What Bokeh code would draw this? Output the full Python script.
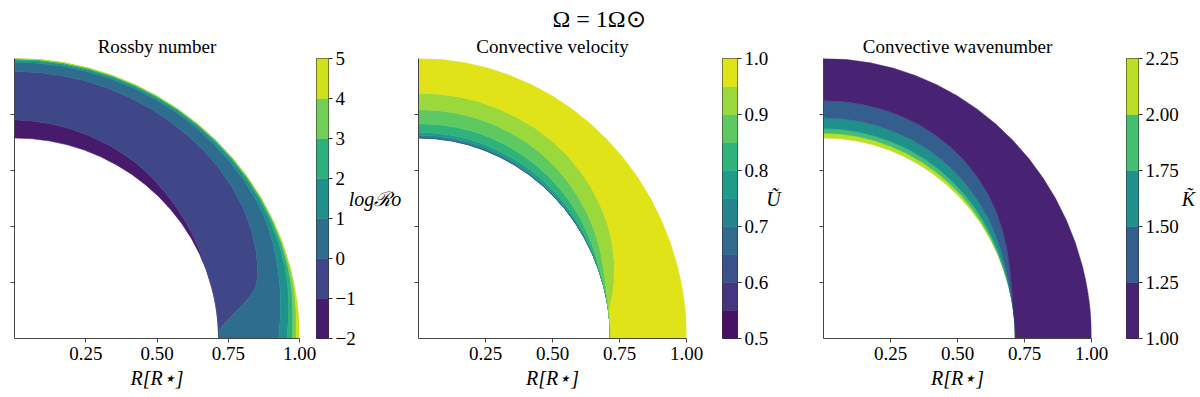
import numpy as np
from bokeh.plotting import figure
from bokeh.layouts import row
from bokeh.models import (FixedTicker, Range1d, NumeralTickFormatter, Title,
                          CustomJSTickFormatter)
from bokeh.palettes import Viridis256
from bokeh.embed import file_html
from bokeh.resources import INLINE

# ---------------- data ----------------
# latitude (degrees from equator) at which contour radii were read
LAT = [0, 1, 2, 3, 4, 6, 8, 10, 12, 15, 20, 25, 30, 35, 40, 45, 50, 55, 60, 65, 70, 75, 80, 85, 90]
R_IN = 0.716
R_OUT = 1.0

# Panel 1: log Rossby number, levels -2..5
RO_LEVELS = [-2, -1, 0, 1, 2, 3, 4, 5]
RO_C_M1 = [.716, .716, .716, .716, .716, .716, .716, .716, .716, .716, .717, .721, .726,
           .731, .737, .743, .751, .757, .762, .766, .770, .774, .777, .779, .781]
RO_C_0 = [.716, .716, .716, .725, .736, .766, .798, .835, .864, .884, .903, .917, .928,
          .935, .940, .944, .946, .948, .950, .951, .952, .953, .954, .954, .954]
RO_C_1 = [.927, .928, .930, .932, .934, .938, .942, .947, .951, .957, .968, .977, .982,
          .984, .985, .986, .987, .987, .987, .987, .987, .987, .987, .987, .987]
RO_C_2 = [.957, .958, .959, .961, .963, .967, .971, .975, .979, .983, .988, .991, .993,
          .994, .995, .995, .995, .995, .995, .995, .995, .995, .995, .995, .995]
RO_C_3 = [.975, .976, .977, .978, .979, .982, .985, .988, .990, .993, .996, .998, .999,
          .999, .999, .999, .999, .999, .999, .999, .999, .999, .999, .999, .999]
RO_C_4 = [.988, .988, .989, .990, .991, .993, .995, .997, .998, .999, 1.0, 1.0, 1.0,
          1.0, 1.0, 1.0, 1.0, 1.0, 1.0, 1.0, 1.0, 1.0, 1.0, 1.0, 1.0]
RO_TICKS = [-2, -1, 0, 1, 2, 3, 4, 5]

# Panel 2: convective velocity, levels 0.5..1.0
U_LEVELS = [0.5, 0.55, 0.6, 0.65, 0.7, 0.75, 0.8, 0.85, 0.9, 0.95, 1.0]
U_C_55 = [.716] * 25
U_C_60 = [.716] * 21 + [.717, .717, .717, .717]
U_C_65 = [.716] * 17 + [.717, .717, .717, .718, .718, .718, .718, .718]
U_C_70 = [.716] * 13 + [.717, .717, .717, .717, .718, .718, .718, .719, .719, .720, .720, .720]
U_C_75 = [.716] * 12 + [.717, .718, .719, .720, .721, .722, .723, .724, .725, .726, .726, .726, .726]
U_C_80 = [.716] * 11 + [.718, .721, .724, .727, .729, .731, .732, .733, .734, .735, .736, .736, .736, .736]
U_C_85 = [.716] * 10 + [.719, .726, .733, .740, .746, .751, .755, .759, .762, .764, .766, .767, .767, .767, .767]
U_C_90 = [.716] * 8 + [.718, .724, .735, .748, .760, .771, .781, .790, .797, .803, .808, .811, .814, .816, .817, .817, .817]
U_C_95 = [.716] * 6 + [.718, .728, .740, .755, .778, .798, .815, .828, .840, .850, .858, .864, .868, .871, .873, .875, .876, .876, .876]
U_TICKS = [0.5, 0.6, 0.7, 0.8, 0.9, 1.0]

# Panel 3: convective wavenumber, levels 1.0..2.25 (decreasing outward)
K_LEVELS = [1.0, 1.25, 1.5, 1.75, 2.0, 2.25]
K_C_200 = [.716] * 11 + [.717, .719, .721, .723, .725, .726, .728, .729, .730, .731, .732, .733, .733, .733]
K_C_175 = [.716] * 10 + [.718, .721, .725, .729, .733, .736, .739, .742, .744, .746, .747, .748, .749, .750, .750]
K_C_150 = [.716] * 9 + [.718, .724, .732, .741, .750, .757, .764, .770, .775, .779, .782, .784, .786, .787, .788, .788]
K_C_125 = [.716] * 7 + [.718, .721, .726, .740, .756, .772, .788, .802, .814, .824, .832, .838, .843, .846, .848, .849, .850, .850]
K_TICKS = [1.0, 1.25, 1.5, 1.75, 2.0, 2.25]

TITLES = ["Rossby number", "Convective velocity", "Convective wavenumber"]
SUPTITLE = "Ω = 1Ω⊙"
X_LABEL = "R[R⋆]"
CB_LABELS = ["logℛo", "Ũ", "K̃"]
X_TICKS = [0.25, 0.5, 0.75, 1.0]
Y_TICKS = [0.2, 0.4, 0.6, 0.8]

FONT = "Liberation Serif"
AX = "#444444"
H = 396
TOP = 58
BOTTOM = H - 338
TITLE_SIZE = "19px"
TITLE_STANDOFF = 4


def band_colors(n):
    return [Viridis256[min(int((i + 0.5) / n * 256), 255)] for i in range(n)]


def band_poly(lower, upper):
    phi = np.radians(LAT)
    lo = np.asarray(lower, float)
    up = np.asarray(upper, float)
    xs = np.concatenate([lo * np.cos(phi), (up * np.cos(phi))[::-1]])
    ys = np.concatenate([lo * np.sin(phi), (up * np.sin(phi))[::-1]])
    return xs, ys


def style_title(t, text, align="center", size=TITLE_SIZE, standoff=TITLE_STANDOFF, offset=0):
    t.text = text
    t.align = align
    t.offset = offset
    t.text_font = FONT
    t.text_font_size = size
    t.text_font_style = "normal"
    t.text_color = "black"
    t.standoff = standoff


def panel(width, left, right, bounds, colors, title, suptitle=None):
    p = figure(width=width, height=H, x_range=Range1d(0, 1), y_range=Range1d(0, 1),
               output_backend="svg", toolbar_location=None,
               min_border_left=left, min_border_right=right,
               min_border_top=TOP, min_border_bottom=BOTTOM)
    p.grid.visible = False
    p.outline_line_color = None
    xs, ys, cs = [], [], []
    for i in range(len(bounds) - 1):
        lo, up = np.asarray(bounds[i]), np.asarray(bounds[i + 1])
        if np.max(up - lo) <= 1e-9:
            continue
        x, y = band_poly(lo, up)
        xs.append(list(x)); ys.append(list(y)); cs.append(colors[i])
    p.patches(xs=xs, ys=ys, fill_color=cs, line_color=cs, line_width=0.5)
    for ax in (p.xaxis[0], p.yaxis[0]):
        ax.axis_line_color = AX
        ax.major_tick_line_color = AX
        ax.major_tick_out = 4
        ax.major_tick_in = 0
        ax.minor_tick_line_color = None
    p.xaxis.ticker = FixedTicker(ticks=X_TICKS)
    p.xaxis.formatter = NumeralTickFormatter(format="0.00")
    p.xaxis.major_label_text_font = FONT
    p.xaxis.major_label_text_font_size = "19px"
    p.xaxis.major_label_text_color = "black"
    p.xaxis.major_label_standoff = 4
    p.xaxis.axis_label = X_LABEL
    p.xaxis.axis_label_text_font = FONT
    p.xaxis.axis_label_text_font_style = "italic"
    p.xaxis.axis_label_text_font_size = "20px"
    p.xaxis.axis_label_text_color = "black"
    p.xaxis.axis_label_standoff = 4
    p.yaxis.ticker = FixedTicker(ticks=Y_TICKS)
    p.yaxis.formatter = CustomJSTickFormatter(code="return ''")
    p.yaxis.major_label_standoff = 0
    if suptitle is None:
        style_title(p.title, title)
    else:
        # figure title sits outermost: use it for the page title
        style_title(p.title, suptitle, align="left", size="24px", standoff=0, offset=134)
        sub = Title()
        style_title(sub, title)
        p.add_layout(sub, "above")
    return p


def colorbar(width, left, levels, colors, ticks, fmt, overrides, label, lab_standoff):
    lo, hi = levels[0], levels[-1]
    cb = figure(width=width, height=H, x_range=Range1d(lo and 0 or 0, 1), y_range=Range1d(lo, hi),
                output_backend="svg", toolbar_location=None,
                x_axis_location=None, y_axis_location="right",
                min_border_left=left, min_border_right=width - left - 15,
                min_border_top=TOP, min_border_bottom=BOTTOM)
    cb.grid.visible = False
    cb.quad(left=0, right=1, bottom=levels[:-1], top=levels[1:],
            fill_color=colors, line_color=colors, line_width=0.5)
    cb.outline_line_color = "#333333"
    cb.outline_line_width = 1
    ax = cb.yaxis[0]
    ax.axis_line_color = None
    ax.ticker = FixedTicker(ticks=ticks)
    if fmt:
        ax.formatter = NumeralTickFormatter(format=fmt)
    if overrides:
        ax.major_label_overrides = overrides
    ax.major_tick_line_color = "#333333"
    ax.major_tick_out = 4
    ax.major_tick_in = 0
    ax.minor_tick_line_color = None
    ax.major_label_text_font = FONT
    ax.major_label_text_font_size = "19px"
    ax.major_label_text_color = "black"
    ax.major_label_standoff = 3
    ax.axis_label = label
    ax.axis_label_orientation = "horizontal"
    ax.axis_label_text_font = FONT
    ax.axis_label_text_font_style = "italic"
    ax.axis_label_text_font_size = "20px"
    ax.axis_label_text_color = "black"
    ax.axis_label_standoff = lab_standoff
    return cb


ro_bounds = [[R_IN] * 25, RO_C_M1, RO_C_0, RO_C_1, RO_C_2, RO_C_3, RO_C_4, [R_OUT] * 25]
u_bounds = [[R_IN] * 25, U_C_55, U_C_60, U_C_65, U_C_70, U_C_75, U_C_80, U_C_85, U_C_90, U_C_95, [R_OUT] * 25]
k_bounds_in_to_out = [[R_IN] * 25, K_C_200, K_C_175, K_C_150, K_C_125, [R_OUT] * 25]

ro_cols = band_colors(len(RO_LEVELS) - 1)
u_cols = band_colors(len(U_LEVELS) - 1)
k_cols = band_colors(len(K_LEVELS) - 1)

p1 = panel(316, 14, 17, ro_bounds, ro_cols, TITLES[0])
c1 = colorbar(88, 0, RO_LEVELS, ro_cols, RO_TICKS, None, {-2: "−2", -1: "−1"},
              CB_LABELS[0], -10)
p2 = panel(308, 14, 26, u_bounds, u_cols, TITLES[1], suptitle=SUPTITLE)
c2 = colorbar(96, 10, U_LEVELS, u_cols, U_TICKS, "0.0", None, CB_LABELS[1], -5)
p3 = panel(308, 15, 25, k_bounds_in_to_out, k_cols[::-1], TITLES[2])
c3 = colorbar(82, 10, K_LEVELS, k_cols, K_TICKS, "0.00", None, CB_LABELS[2], 0)

layout = row(p1, c1, p2, c2, p3, c3)
open("out.html", "w").write(file_html(layout, INLINE))
